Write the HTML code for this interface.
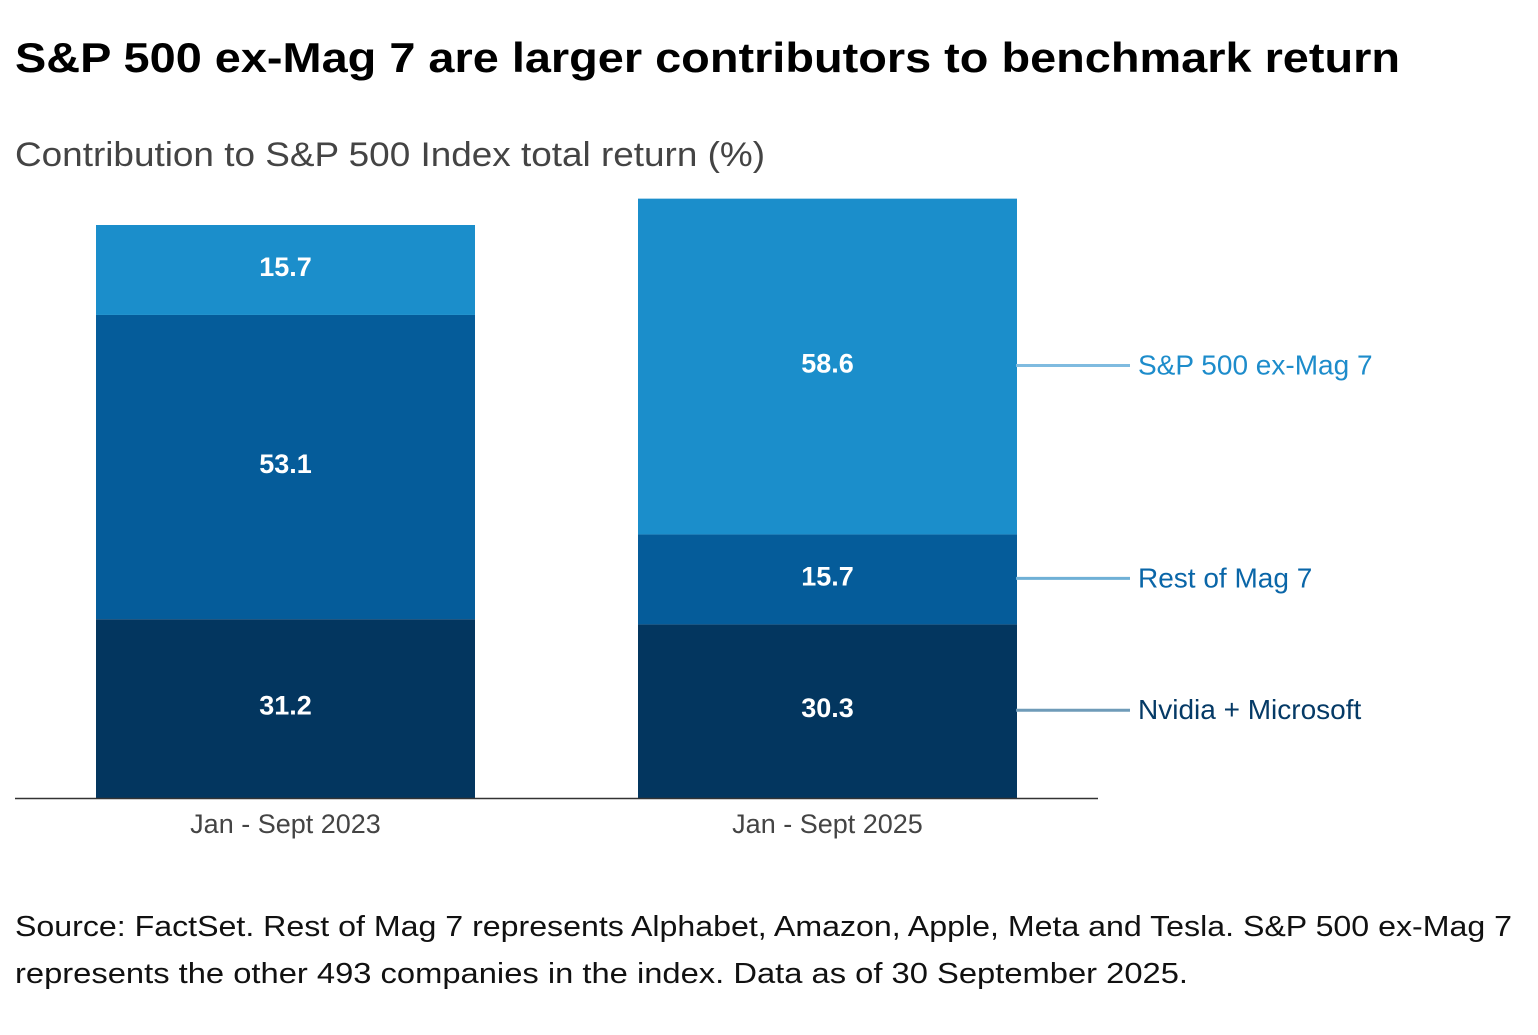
<!DOCTYPE html>
<html><head><meta charset="utf-8"><style>
body{margin:0;width:1538px;height:1030px;background:#fff;font-family:"Liberation Sans",sans-serif;overflow:hidden}
</style></head><body>
<svg width="1538" height="1030" xmlns="http://www.w3.org/2000/svg" id="chart">
<text x="15" y="72" font-size="42" font-weight="bold" fill="#000" textLength="1385" lengthAdjust="spacingAndGlyphs">S&amp;P 500 ex-Mag 7 are larger contributors to benchmark return</text>
<text x="15" y="166" font-size="34" fill="#444" textLength="750" lengthAdjust="spacingAndGlyphs">Contribution to S&amp;P 500 Index total return (%)</text>
<g id="bars"></g>
<line x1="15" y1="798.5" x2="1098" y2="798.5" stroke="#333" stroke-width="1.5"/>
<text x="15" y="936" font-size="29" fill="#111" textLength="1497" lengthAdjust="spacingAndGlyphs">Source: FactSet. Rest of Mag 7 represents Alphabet, Amazon, Apple, Meta and Tesla. S&amp;P 500 ex-Mag 7</text>
<text x="15" y="983" font-size="29" fill="#111" textLength="1173" lengthAdjust="spacingAndGlyphs">represents the other 493 companies in the index. Data as of 30 September 2025.</text>
</svg>
<script>
const categories=["Jan - Sept 2023","Jan - Sept 2025"];
const seriesNames=["Nvidia + Microsoft","Rest of Mag 7","S&P 500 ex-Mag 7"];
const nvdaMsft=[31.2,30.3];
const restMag7=[15.7,15.7];
const exMag7=[53.1,58.6];
const colors=["#03365f","#055c9a","#1b8ecb"];
const base=798, scale=5.73;
const y=v=>base-v*scale;
const barX=[96,638], barW=379;
const g=document.getElementById('bars');
const ns="http://www.w3.org/2000/svg";
const order=[[nvdaMsft[0],exMag7[0],restMag7[0]],[nvdaMsft[1],restMag7[1],exMag7[1]]];
categories.forEach((c,i)=>{
  let cum=0;
  order[i].forEach((v,j)=>{
    const r=document.createElementNS(ns,'rect');
    r.setAttribute('x',barX[i]);r.setAttribute('width',barW);
    r.setAttribute('y',y(cum+v));r.setAttribute('height',v*scale);
    r.setAttribute('fill',colors[j]);
    
    
    g.appendChild(r);
    const t=document.createElementNS(ns,'text');
    t.setAttribute('x',barX[i]+barW/2);t.setAttribute('y',y(cum+v/2)+6);
    t.setAttribute('text-anchor','middle');t.setAttribute('font-size','27');t.setAttribute('font-weight','bold');t.setAttribute('fill','#fff');
    t.textContent=v.toFixed(1);
    
    
    g.appendChild(t);
    if(i===1){
      const ly=y(cum+v/2)-1;
      const l=document.createElementNS(ns,'line');
      l.setAttribute('x1',1016);l.setAttribute('x2',1130);l.setAttribute('y1',ly);l.setAttribute('y2',ly);
      l.setAttribute('stroke',['#6f9bb8','#6fb0d6','#7fbbe0'][j]);l.setAttribute('stroke-width','3');
      
      
      g.appendChild(l);
      const lt=document.createElementNS(ns,'text');
      lt.setAttribute('x',1138);lt.setAttribute('y',ly+9);lt.setAttribute('font-size','28');
      lt.setAttribute('fill',['#053a66','#0a66a8','#1d8ccb'][j]);
      lt.textContent=seriesNames[j];
      
      
      g.appendChild(lt);
    }
    cum+=v;
  });
  const xl=document.createElementNS(ns,'text');
  xl.setAttribute('x',barX[i]+barW/2);xl.setAttribute('y',833);xl.setAttribute('text-anchor','middle');
  xl.setAttribute('font-size','27');xl.setAttribute('fill','#444');
  xl.textContent=c;
  
  
  g.appendChild(xl);
});
</script>
</body></html>
